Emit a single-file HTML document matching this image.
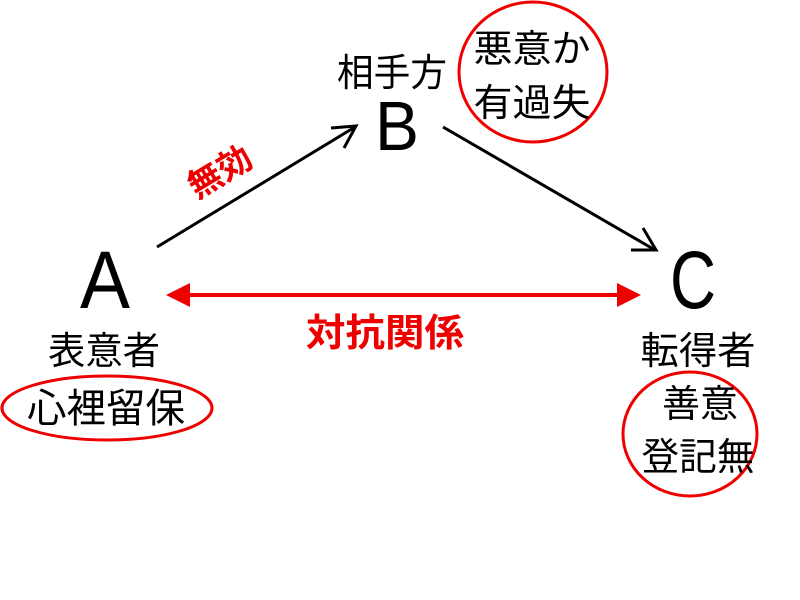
<!DOCTYPE html>
<html><head><meta charset="utf-8"><style>
html,body{margin:0;padding:0;background:#fff;width:800px;height:600px;overflow:hidden}
text{font-family:"Liberation Sans","Noto Sans CJK JP",sans-serif}
</style></head><body>
<svg width="800" height="600" viewBox="0 0 800 600" xmlns="http://www.w3.org/2000/svg">
<!-- black arrows -->
<line x1="157" y1="247" x2="355" y2="127" stroke="#000" stroke-width="3"/>
<path d="M331,128 L356,126 L344,148" fill="none" stroke="#000" stroke-width="3"/>
<line x1="443" y1="127" x2="655" y2="250" stroke="#000" stroke-width="3"/>
<path d="M643,228 L656,250 L631,250" fill="none" stroke="#000" stroke-width="3"/>
<!-- red double arrow -->
<line x1="180" y1="295" x2="625" y2="295" stroke="#e00" stroke-width="4"/>
<polygon points="166,295 190,283 190,307" fill="#e00"/>
<polygon points="641,295 617,283 617,307" fill="#e00"/>
<!-- letters -->
<text x="105" y="308" font-size="82" text-anchor="middle" textLength="50" lengthAdjust="spacingAndGlyphs">A</text>
<text x="397" y="150" font-size="70" text-anchor="middle" textLength="44" lengthAdjust="spacingAndGlyphs">B</text>
<text x="693" y="308" font-size="82" text-anchor="middle" textLength="46" lengthAdjust="spacingAndGlyphs">C</text>
<!-- labels -->
<text x="392" y="86" font-size="38" text-anchor="middle" textLength="110" lengthAdjust="spacingAndGlyphs">相手方</text>
<text x="104" y="364" font-size="38" text-anchor="middle" textLength="112" lengthAdjust="spacingAndGlyphs">表意者</text>
<text x="698" y="364" font-size="38" text-anchor="middle" textLength="115" lengthAdjust="spacingAndGlyphs">転得者</text>
<text x="385" y="346" font-size="38" font-weight="bold" fill="#e00" text-anchor="middle" textLength="158" lengthAdjust="spacingAndGlyphs">対抗関係</text>
<text x="0" y="0" font-size="34" font-weight="bold" fill="#e00" text-anchor="middle" transform="translate(226,182) rotate(-31)">無効</text>
<!-- ellipses -->
<ellipse cx="107" cy="408" rx="105" ry="32" fill="none" stroke="#e00" stroke-width="3"/>
<text x="106" y="422" font-size="40" text-anchor="middle" textLength="158" lengthAdjust="spacingAndGlyphs">心裡留保</text>
<ellipse cx="690" cy="434" rx="67" ry="62" fill="none" stroke="#e00" stroke-width="3"/>
<text x="700" y="417" font-size="38" text-anchor="middle" textLength="76" lengthAdjust="spacingAndGlyphs">善意</text>
<text x="698" y="470" font-size="38" text-anchor="middle" textLength="113" lengthAdjust="spacingAndGlyphs">登記無</text>
<ellipse cx="533" cy="72" rx="74" ry="70" fill="none" stroke="#e00" stroke-width="3"/>
<text x="532" y="62" font-size="38" text-anchor="middle" textLength="117" lengthAdjust="spacingAndGlyphs">悪意か</text>
<text x="532" y="116" font-size="38" text-anchor="middle" textLength="117" lengthAdjust="spacingAndGlyphs">有過失</text>
</svg>
</body></html>
